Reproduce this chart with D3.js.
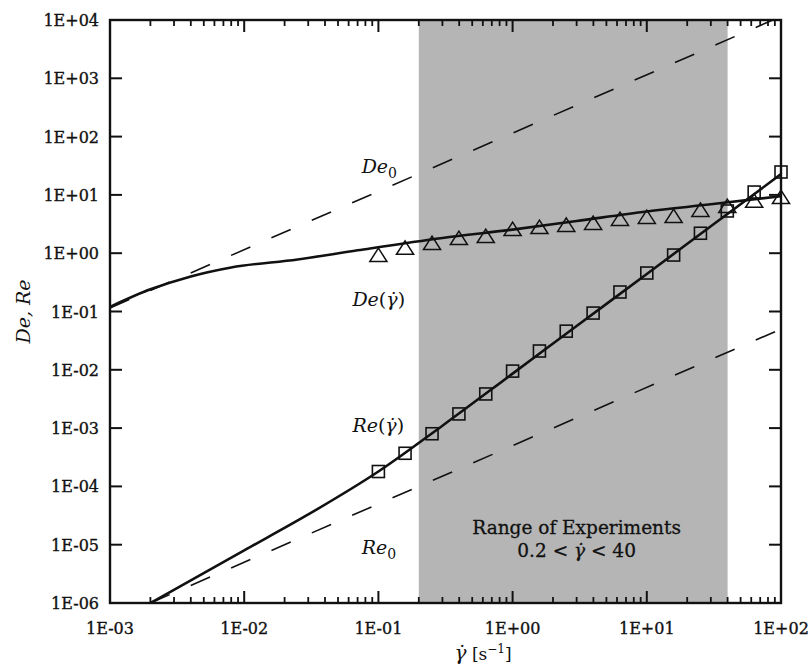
<!DOCTYPE html>
<html>
<head>
<meta charset="utf-8">
<script src="https://cdn.jsdelivr.net/npm/d3@7"></script>
<style>
  body { margin: 0; background: #fff; }
  text { font-family: "DejaVu Serif", serif; fill: #111; }
  .tick-label { font-size: 16px; stroke: #111; stroke-width: 0.35px; }
  .curve-label { font-size: 19px; font-style: italic; }
  .note { font-size: 18.5px; stroke: #111; stroke-width: 0.3px; }
</style>
</head>
<body>
<svg id="chart"></svg>
<script>
// data
const xTicks = [1e-3, 1e-2, 1e-1, 1e0, 1e1, 1e2];
const xTickLabels = ["1E-03", "1E-02", "1E-01", "1E+00", "1E+01", "1E+02"];
const yTicks = [1e-6, 1e-5, 1e-4, 1e-3, 1e-2, 1e-1, 1e0, 1e1, 1e2, 1e3, 1e4];
const yTickLabels = ["1E-06", "1E-05", "1E-04", "1E-03", "1E-02", "1E-01", "1E+00", "1E+01", "1E+02", "1E+03", "1E+04"];

const shadeRange = [0.2, 40];

// measured points (squares = Re, triangles = De)
const pointGamma = [0.1, 0.158, 0.251, 0.398, 0.631, 1, 1.585, 2.51, 3.98, 6.31, 10, 15.85, 25.1, 39.8, 63.1, 100];
const reMeasured = [1.8e-4, 3.7e-4, 8.0e-4, 1.75e-3, 3.85e-3, 9.5e-3, 2.1e-2, 4.6e-2, 9.4e-2, 0.216, 0.457, 0.93, 2.2, 5.3, 11.2, 24.7];
const deMeasured = [0.86, 1.14, 1.38, 1.68, 1.82, 2.4, 2.6, 2.82, 3.05, 3.57, 3.86, 4.0, 5.1, 5.96, 7.3, 8.5];

// model curves
const deCurveGamma = [0.001, 0.002, 0.004, 0.008, 0.025, 0.07, 0.3, 1, 3, 10, 30, 100];
const deCurveValues = [0.12, 0.24, 0.40, 0.57, 0.78, 1.12, 1.82, 2.54, 3.57, 5.2, 6.9, 9.5];
const reCurveGamma = [0.002, 0.01, 0.03, 0.1, 0.3, 1, 3, 10, 30, 100];
const reCurveValues = [1e-6, 8e-6, 3.3e-5, 1.8e-4, 1.1e-3, 8.6e-3, 0.0565, 0.44, 2.9, 22.7];

// zero-shear asymptotes
const de0Gamma = [0.001, 87];
const de0Values = [0.115, 10000];
const re0Gamma = [0.002, 100];
const re0Values = [1e-6, 0.05];

const margin = { top: 20, right: 31, bottom: 64, left: 110 };
const W = 812, H = 667;
const width = W - margin.left - margin.right;
const height = H - margin.top - margin.bottom;

const root = d3.select("#chart").attr("width", W).attr("height", H);
const svg = root.append("g").attr("transform", `translate(${margin.left},${margin.top})`);

const x = d3.scaleLog().domain([1e-3, 1e2]).range([0, width]);
const y = d3.scaleLog().domain([1e-6, 1e4]).range([height, 0]);

root.append("defs").append("clipPath").attr("id", "plot-clip")
  .append("rect").attr("width", width).attr("height", height);

// shaded experimental range
svg.append("rect")
  .attr("x", x(shadeRange[0]))
  .attr("y", 0)
  .attr("width", x(shadeRange[1]) - x(shadeRange[0]))
  .attr("height", height)
  .attr("fill", "#b5b5b5");

const plot = svg.append("g").attr("clip-path", "url(#plot-clip)");

const line = d3.line().x(d => x(d[0])).y(d => y(d[1])).curve(d3.curveMonotoneX);
const zip = (a, b) => a.map((v, i) => [v, b[i]]);

// dashed asymptotes
[zip(de0Gamma, de0Values), zip(re0Gamma, re0Values)].forEach(pts => {
  plot.append("path").datum(pts)
    .attr("fill", "none").attr("stroke", "#111")
    .attr("stroke-width", 1.6).attr("stroke-dasharray", "21,23")
    .attr("d", line);
});

// solid model curves
[zip(deCurveGamma, deCurveValues), zip(reCurveGamma, reCurveValues)].forEach(pts => {
  plot.append("path").datum(pts)
    .attr("fill", "none").attr("stroke", "#111")
    .attr("stroke-width", 2.6).attr("d", line);
});

// squares
svg.selectAll(".sq").data(zip(pointGamma, reMeasured)).enter()
  .append("rect").attr("class", "sq")
  .attr("x", d => x(d[0]) - 6).attr("y", d => y(d[1]) - 6)
  .attr("width", 12).attr("height", 12)
  .attr("fill", "none").attr("stroke", "#111").attr("stroke-width", 1.6);

// triangles
const tri = d3.symbol().type(d3.symbolTriangle).size(115);
svg.selectAll(".tri").data(zip(pointGamma, deMeasured)).enter()
  .append("path").attr("class", "tri")
  .attr("transform", d => `translate(${x(d[0])},${y(d[1])}) scale(1.05,0.95)`)
  .attr("d", tri)
  .attr("fill", "none").attr("stroke", "#111").attr("stroke-width", 1.5)
  .attr("vector-effect", "non-scaling-stroke");

// axes: ticks pointing inward on all four sides
const minorX = [];
for (let e = -3; e < 2; e++) for (let m = 2; m <= 9; m++) minorX.push(m * Math.pow(10, e));

const axisG = svg.append("g").attr("stroke", "#111");
xTicks.forEach(t => {
  axisG.append("line").attr("x1", x(t)).attr("x2", x(t)).attr("y1", height).attr("y2", height - 12).attr("stroke-width", 2);
  axisG.append("line").attr("x1", x(t)).attr("x2", x(t)).attr("y1", 0).attr("y2", 12).attr("stroke-width", 2);
});
minorX.forEach(t => {
  axisG.append("line").attr("x1", x(t)).attr("x2", x(t)).attr("y1", height).attr("y2", height - 6).attr("stroke-width", 1.8);
  axisG.append("line").attr("x1", x(t)).attr("x2", x(t)).attr("y1", 0).attr("y2", 6).attr("stroke-width", 1.8);
});
yTicks.forEach(t => {
  axisG.append("line").attr("x1", 0).attr("x2", 12).attr("y1", y(t)).attr("y2", y(t)).attr("stroke-width", 2);
  axisG.append("line").attr("x1", width).attr("x2", width - 12).attr("y1", y(t)).attr("y2", y(t)).attr("stroke-width", 2);
});
svg.append("rect").attr("width", width).attr("height", height)
  .attr("fill", "none").attr("stroke", "#111").attr("stroke-width", 2.4);

// tick labels
svg.selectAll(".xl").data(xTicks).enter().append("text")
  .attr("class", "tick-label").attr("x", d => x(d)).attr("y", height + 31)
  .attr("text-anchor", "middle").text((d, i) => xTickLabels[i]);
svg.selectAll(".yl").data(yTicks).enter().append("text")
  .attr("class", "tick-label").attr("x", -11).attr("y", d => y(d) + 6)
  .attr("text-anchor", "end").text((d, i) => yTickLabels[i]);

// axis titles
svg.append("text").attr("class", "curve-label")
  .attr("transform", `translate(-80,${height / 2}) rotate(-90)`)
  .attr("text-anchor", "middle")
  .text("De, Re");

const xt = svg.append("text").attr("x", x(1.0) - 58).attr("y", height + 57).style("font-size", "17px");
xt.append("tspan").style("font-style", "italic").style("font-size", "20px").text("γ\u0307");
xt.append("tspan").text(" [s");
xt.append("tspan").attr("dy", -7).style("font-size", "12px").text("\u22121");
xt.append("tspan").attr("dy", 7).text("]");

// curve labels
function curveLabel(px, py, main, sub) {
  const t = svg.append("text").attr("class", "curve-label").attr("x", px).attr("y", py);
  t.append("tspan").text(main);
  if (sub === "0") {
    t.append("tspan").attr("dy", 5).style("font-style", "normal").style("font-size", "14px").text("0");
  } else {
    t.append("tspan").style("font-style", "normal").text("(");
    t.append("tspan").text("γ\u0307");
    t.append("tspan").style("font-style", "normal").text(")");
  }
}
curveLabel(x(0.075), y(24), "De", "0");
curveLabel(x(0.064), y(0.125), "De", "g");
curveLabel(x(0.064), y(0.00085), "Re", "g");
curveLabel(x(0.075), y(6.8e-6), "Re", "0");

// shaded region note
const cx = x(3.0);
svg.append("text").attr("class", "note").attr("x", cx).attr("y", y(1.53e-5)).attr("text-anchor", "middle").text("Range of Experiments");
const n2 = svg.append("text").attr("class", "note").attr("x", cx).attr("y", y(6.2e-6)).attr("text-anchor", "middle");
n2.append("tspan").text("0.2 < ");
n2.append("tspan").style("font-style", "italic").text("γ\u0307");
n2.append("tspan").text(" < 40");
</script>
</body>
</html>
